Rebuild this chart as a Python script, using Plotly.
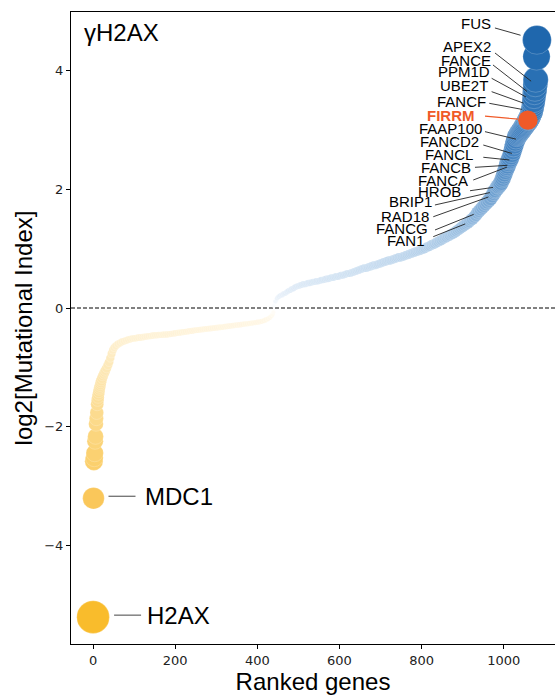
import math
import plotly.graph_objects as go

# Ranked genes (x) and their log2 mutational index (y)
RANK = [
    0, 1, 2, 3, 4, 5, 6, 7, 8, 9, 10, 11, 12, 13, 14, 15, 16, 17, 18, 19, 20,
    22, 24, 26, 28, 30, 33, 36, 39, 42, 45, 48, 51, 55,
    60, 65, 70, 75, 80, 85, 90, 95, 100, 105, 110, 115, 120, 125, 130, 135,
    140, 145, 150, 155, 160, 165, 170, 175, 180, 185, 190, 195, 200, 205,
    210, 215, 220, 225, 230, 235, 240, 245, 250, 255, 260, 265, 270, 275,
    280, 285, 290, 295, 300, 305, 310, 315, 320, 325, 330, 335, 340, 345,
    350, 355, 360, 365, 370, 375, 380, 385, 390, 395, 400, 405, 410, 415,
    420, 425, 430, 434, 437, 439,
    440, 444, 448, 452, 456, 460, 464, 468, 472, 476, 480, 484, 488, 492,
    496, 500, 504, 508, 512, 516, 520, 524, 528, 532, 536, 540, 544, 548,
    552, 556, 560, 564, 568, 572, 576, 580, 584, 588, 592, 596, 600, 604,
    608, 612, 616, 620, 624, 628, 632, 636, 640, 644, 648, 652, 656, 660,
    664, 668, 672, 676, 680, 684, 688, 692, 696, 700, 704, 708, 712, 716,
    720, 724, 728, 732, 736, 740, 744, 748, 752, 756, 760, 764, 768, 772,
    776, 780, 784, 788, 792, 796, 800, 804, 808, 812, 816, 820, 824, 828,
    832, 836, 840, 844, 848, 852, 856, 860, 864, 868, 872, 876, 880, 884,
    888, 892, 896, 900, 904, 908, 912, 916, 920, 924, 928, 932, 936, 940,
    944, 948, 952, 956, 960, 964, 968, 972, 976, 978, 980, 984, 986, 988,
    990, 992, 994, 996, 998, 1000, 1002, 1004, 1006, 1008, 1009, 1011,
    1013, 1014, 1016, 1018, 1020, 1022, 1024, 1026, 1028, 1030, 1032, 1034,
    1036, 1038, 1040, 1042, 1044, 1046, 1048, 1050, 1052, 1054, 1056, 1058,
    1059, 1060, 1061, 1062, 1063, 1064, 1065, 1066, 1067, 1068, 1069, 1070,
    1071, 1072, 1073, 1074, 1075, 1076, 1077, 1078, 1080, 1081,
]

LOG2_MI = [
    -5.20, -3.20, -2.58, -2.52, -2.44, -2.24, -2.16, -1.95, -1.86, -1.76,
    -1.62, -1.55, -1.50, -1.45, -1.41, -1.37, -1.34, -1.31, -1.28, -1.25,
    -1.22, -1.18, -1.14, -1.11, -1.08, -1.05, -1.01, -0.96, -0.91, -0.84,
    -0.77, -0.71, -0.67, -0.64,
    -0.61, -0.59, -0.57, -0.56, -0.545, -0.535, -0.525, -0.515, -0.51,
    -0.505, -0.50, -0.495, -0.49, -0.485, -0.48, -0.475, -0.47, -0.465,
    -0.46, -0.458, -0.455, -0.452, -0.45, -0.447, -0.445, -0.44, -0.435,
    -0.43, -0.425, -0.42, -0.415, -0.41, -0.405, -0.40, -0.395, -0.39,
    -0.385, -0.38, -0.375, -0.37, -0.365, -0.36, -0.357, -0.353, -0.35,
    -0.345, -0.34, -0.336, -0.332, -0.328, -0.324, -0.32, -0.315, -0.31,
    -0.305, -0.30, -0.296, -0.292, -0.288, -0.284, -0.28, -0.275, -0.27,
    -0.265, -0.26, -0.255, -0.25, -0.245, -0.24, -0.232, -0.225, -0.215,
    -0.20, -0.185, -0.165, -0.14, -0.11, -0.07,
    0.04, 0.11, 0.16, 0.19, 0.21, 0.22, 0.24, 0.25, 0.27, 0.29, 0.30, 0.32,
    0.33, 0.35, 0.36, 0.37, 0.38, 0.39, 0.40, 0.40, 0.41, 0.42, 0.42, 0.43,
    0.44, 0.44, 0.45, 0.45, 0.46, 0.47, 0.47, 0.48, 0.49, 0.49, 0.50, 0.51,
    0.51, 0.52, 0.53, 0.53, 0.54, 0.55, 0.55, 0.56, 0.57, 0.58, 0.58, 0.59,
    0.60, 0.61, 0.62, 0.63, 0.64, 0.65, 0.66, 0.67, 0.67, 0.68, 0.69, 0.70,
    0.71, 0.72, 0.72, 0.73, 0.74, 0.75, 0.76, 0.77, 0.78, 0.79, 0.80, 0.80,
    0.81, 0.82, 0.83, 0.84, 0.85, 0.85, 0.86, 0.87, 0.88, 0.89, 0.90, 0.91,
    0.92, 0.93, 0.94, 0.95, 0.96, 0.97, 0.98, 0.99, 1.00, 1.02, 1.03, 1.04,
    1.06, 1.07, 1.08, 1.10, 1.11, 1.13, 1.14, 1.16, 1.18, 1.19, 1.21, 1.22,
    1.24, 1.25, 1.27, 1.29, 1.31, 1.33, 1.35, 1.37, 1.39, 1.41, 1.43, 1.45,
    1.48, 1.50, 1.53, 1.56, 1.60, 1.63, 1.66, 1.69, 1.72, 1.75, 1.78, 1.81,
    1.84, 1.89, 1.93, 1.96, 1.98, 2.01, 2.04, 2.05, 2.07, 2.09, 2.11, 2.15,
    2.18, 2.22, 2.26, 2.30, 2.34, 2.37, 2.40, 2.44, 2.47, 2.49, 2.52, 2.56,
    2.60, 2.65, 2.70, 2.75, 2.80, 2.84, 2.88, 2.90, 2.92, 2.94, 2.96, 2.98,
    3.00, 3.02, 3.04, 3.06, 3.08, 3.10, 3.12, 3.14, 3.16, 3.17, 3.18, 3.19,
    3.21, 3.22, 3.24, 3.26, 3.28, 3.30, 3.31, 3.35, 3.39, 3.44, 3.48, 3.55,
    3.62, 3.68, 3.76, 3.84, 4.23, 4.51,
]

# Named genes on the positive tail
LABEL_GENES = ["FUS", "APEX2", "FANCE", "PPM1D", "UBE2T", "FANCF", "FIRRM",
               "FAAP100", "FANCD2", "FANCL", "FANCB", "FANCA", "HROB",
               "BRIP1", "RAD18", "FANCG", "FAN1"]
LABEL_RANKS = [1081, 1077, 1074, 1073, 1071, 1069, 1059,
               1030, 1020, 1014, 1009, 1008, 986,
               978, 972, 936, 912]
HIGHLIGHT_GENE = "FIRRM"

# Named genes on the negative tail
BOTTOM_GENES = ["MDC1", "H2AX"]
BOTTOM_RANKS = [1, 0]

PANEL_TITLE = "γH2AX"

# text right-edge offset (dx, dy), leader start (dx, dy) in screen px, standoff
LABEL_OFFSETS = {
    "FUS": (-44.3, -16.6, -42, -11.9, 17),
    "APEX2": (-42.3, -37.8, -40.3, -31.5, 5.3),
    "FANCE": (-41.1, -36.3, -41.1, -32, 9),
    "PPM1D": (-42, -29.4, -42, -22.8, 8.7),
    "UBE2T": (-42.9, -20.5, -41.2, -14.8, 10),
    "FANCF": (-43.7, -9.5, -42.7, -7.9, 10.3),
    "FIRRM": (-50.6, -5.1, -42.9, -4.1, 10),
    "FAAP100": (-32, -10.9, -31, -7.5, 0),
    "FANCD2": (-31.2, -11.7, -28.6, -8.4, 0),
    "FANCL": (-34.4, -5.7, -26.1, -2.7, 0),
    "FANCB": (-34.7, 2, -32.4, 2, 0),
    "FANCA": (-37, 12.9, -33.7, 12.9, 0),
    "HROB": (-35.2, 4.3, -27.9, 4, 5),
    "BRIP1": (-60.7, 10.2, -59.7, 13.5, 5),
    "RAD18": (-61.5, 21.1, -58.9, 21.1, 4),
    "FANCG": (-47.4, 15.4, -42.4, 17.1, 4),
    "FAN1": (-40.3, 17.7, -34.3, 13.7, 2.5),
}
# text left-edge offset (dx, dy), leader start and end x offsets (screen px)
BOTTOM_OFFSETS = {
    "MDC1": (49, -2, 15, 42),
    "H2AX": (52, -2, 21, 48),
}

ORANGE = "#F05A28"
TEXT_FONT = "Liberation Sans, Arial, sans-serif"

COLORSCALE = [
    [0.0, "#F9BC2C"], [0.1923, "#FAC75A"], [0.2596, "#FBD06E"],
    [0.3558, "#FCDF9A"], [0.4423, "#FEEFCC"], [0.4808, "#FFF7E6"],
    [0.5, "#FFFFFF"], [0.5192, "#E8F0F9"], [0.5481, "#D2E3F3"],
    [0.5962, "#B3CFE9"], [0.6442, "#90B8DE"], [0.6923, "#6C9FD0"],
    [0.7404, "#4E8AC5"], [0.7885, "#3B7CBD"], [0.8654, "#2A71B4"],
    [0.9327, "#1F67AD"], [1.0, "#1C63AA"],
]


def marker_size(v):
    return 4 + 5.5 * abs(v)


value_at = dict(zip(RANK, LOG2_MI))
hl_rank = LABEL_RANKS[LABEL_GENES.index(HIGHLIGHT_GENE)]

fig = go.Figure()
fig.add_trace(go.Scatter(
    x=RANK, y=LOG2_MI, mode="markers", hoverinfo="skip", showlegend=False,
    marker=dict(
        size=[marker_size(v) for v in LOG2_MI],
        color=LOG2_MI, colorscale=COLORSCALE, cmin=-5.2, cmax=5.2,
        line=dict(width=0.6, color="rgba(255,255,255,0.35)"),
        opacity=1,
    ),
))
fig.add_trace(go.Scatter(
    x=[hl_rank], y=[value_at[hl_rank]], mode="markers", hoverinfo="skip",
    showlegend=False,
    marker=dict(size=marker_size(value_at[hl_rank]) - 2, color=ORANGE),
))

shapes = [dict(type="line", xref="paper", x0=0, x1=1, yref="y", y0=0, y1=0,
               line=dict(color="black", width=1, dash="4px,2px"), layer="below")]
annotations = [dict(text=PANEL_TITLE, xref="paper", yref="paper", x=0.022,
                    y=0.967, xanchor="left", yanchor="middle", showarrow=False,
                    font=dict(family=TEXT_FONT, size=24, color="black"))]

for name, rank in zip(LABEL_GENES, LABEL_RANKS):
    v = value_at[rank]
    tdx, tdy, ldx, ldy, so = LABEL_OFFSETS[name]
    dist = math.hypot(ldx, ldy)
    ex, ey = ldx / dist * so, ldy / dist * so
    hl = name == HIGHLIGHT_GENE
    shapes.append(dict(
        type="line", xref="x", yref="y", xsizemode="pixel", ysizemode="pixel",
        xanchor=rank, yanchor=v, x0=ldx, y0=-ldy, x1=ex, y1=-ey,
        line=dict(color=ORANGE if hl else "#222222", width=1.2 if hl else 0.9),
    ))
    annotations.append(dict(
        text=f"<b>{name}</b>" if hl else name, x=rank, y=v, xref="x", yref="y",
        xshift=tdx, yshift=-tdy, xanchor="right", yanchor="middle",
        showarrow=False,
        font=dict(family=TEXT_FONT, size=15, color=ORANGE if hl else "black"),
    ))

for name, rank in zip(BOTTOM_GENES, BOTTOM_RANKS):
    v = value_at[rank]
    tdx, tdy, lx0, lx1 = BOTTOM_OFFSETS[name]
    shapes.append(dict(
        type="line", xref="x", yref="y", xsizemode="pixel", ysizemode="pixel",
        xanchor=rank, yanchor=v, x0=lx0, y0=-tdy, x1=lx1, y1=-tdy,
        line=dict(color="#444444", width=1),
    ))
    annotations.append(dict(
        text=name, x=rank, y=v, xref="x", yref="y", xshift=tdx, yshift=-tdy,
        xanchor="left", yanchor="middle", showarrow=False,
        font=dict(family=TEXT_FONT, size=24, color="black"),
    ))

axis_common = dict(
    showline=True, linecolor="black", linewidth=1, ticks="outside", ticklen=4,
    tickwidth=1, tickcolor="black", showgrid=False, zeroline=False,
    tickfont=dict(family="DejaVu Sans", size=13, color="#222222"),
)

fig.update_layout(
    width=555, height=698, autosize=False,
    margin=dict(l=71, r=0, t=12, b=54),
    paper_bgcolor="white", plot_bgcolor="white",
    xaxis=dict(range=[-53.8, 1125], tickvals=[0, 200, 400, 600, 800, 1000],
               mirror=True, title=dict(text="Ranked genes", standoff=6,
               font=dict(family=TEXT_FONT, size=24, color="black")),
               **axis_common),
    yaxis=dict(range=[-5.652, 4.979], tickvals=[-4, -2, 0, 2, 4],
               title=dict(text="log2[Mutational Index]", standoff=4,
               font=dict(family=TEXT_FONT, size=24, color="black")),
               **axis_common),
    shapes=shapes, annotations=annotations,
)

fig.write_html("out.html")
